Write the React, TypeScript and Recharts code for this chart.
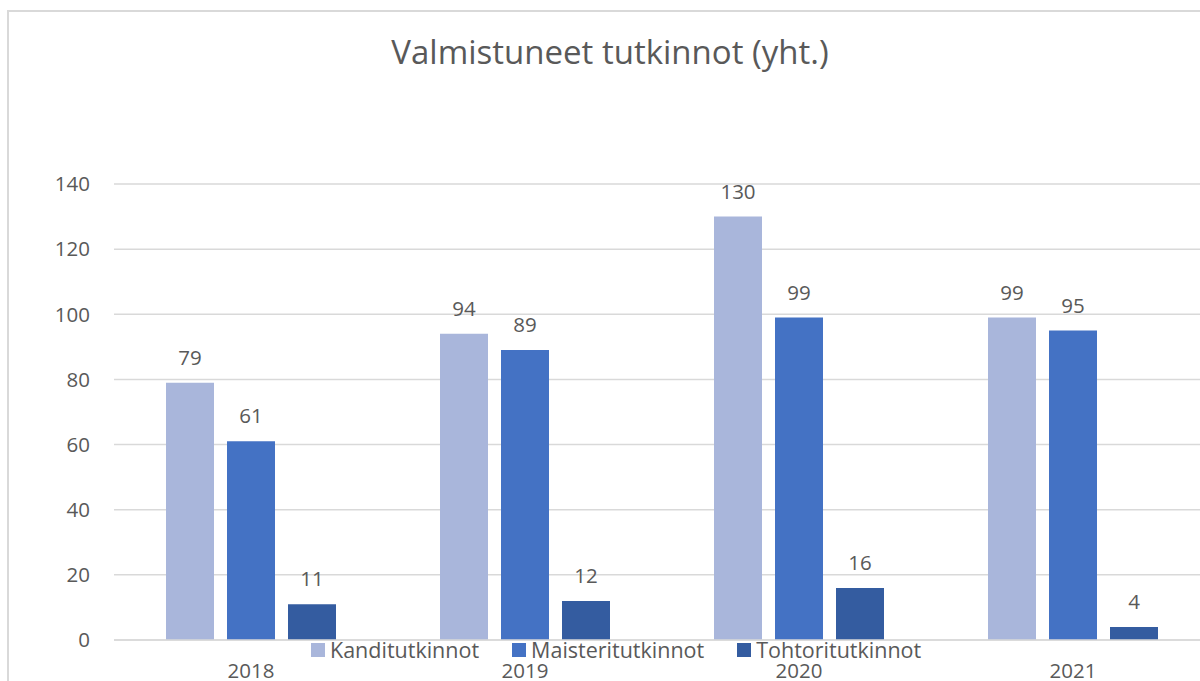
import { BarChart, Bar, XAxis, YAxis, CartesianGrid, LabelList } from "recharts";

const VUODET = ["2018", "2019", "2020", "2021"];
const KANDIT = [79, 94, 130, 99];
const MAISTERIT = [61, 89, 99, 95];
const TOHTORIT = [11, 12, 16, 4];
const Y_TICKS = [0, 20, 40, 60, 80, 100, 120, 140];

const SARJAT = [
  { key: "kandit", name: "Kanditutkinnot", color: "#A9B6DB" },
  { key: "maisterit", name: "Maisteritutkinnot", color: "#4472C4" },
  { key: "tohtorit", name: "Tohtoritutkinnot", color: "#345CA0" },
];

const TEKSTI = "#595959";
const FONTTI = "'Open Sans', sans-serif";

const data = VUODET.map((v, i) => ({
  vuosi: v,
  kandit: KANDIT[i],
  maisterit: MAISTERIT[i],
  tohtorit: TOHTORIT[i],
}));

// selite on x-akselin päällä kuten Excelissä
function Selite() {
  return (
    <div
      style={{
        position: "absolute", left: 311, top: 639, display: "flex", alignItems: "center",
        fontFamily: FONTTI, fontSize: 21.5, color: TEKSTI, whiteSpace: "nowrap",
      }}
    >
      {SARJAT.map((s) => (
        <div key={s.key} style={{ display: "flex", alignItems: "center", marginRight: 33 }}>
          <span style={{ width: 14, height: 14, background: s.color, marginRight: 5, display: "inline-block" }} />
          <span style={{ lineHeight: "22px" }}>{s.name}</span>
        </div>
      ))}
    </div>
  );
}

export default function App() {
  return (
    <div style={{ position: "absolute", left: 0, top: 0, width: 1200, height: 681, overflow: "hidden", background: "#fff" }}>
      {/* kaavion kehys, oikea ja ala reuna jäävät kuvan ulkopuolelle */}
      <div style={{ position: "absolute", left: 7, top: 10, width: 1206, height: 760, border: "2px solid #d9d9d9" }} />
      <div
        style={{
          position: "absolute", left: 0, top: 30, width: 1220, textAlign: "center",
          fontFamily: FONTTI, fontSize: 33, lineHeight: "44px", color: TEKSTI,
        }}
      >
        Valmistuneet tutkinnot (yht.)
      </div>
      <div style={{ position: "absolute", left: 0, top: 0 }}>
        <BarChart
          width={1240}
          height={720}
          data={data}
          margin={{ top: 184, right: 30, bottom: 50, left: 54 }}
          barSize={48}
          barGap={13}
        >
          <CartesianGrid vertical={false} stroke="#d9d9d9" strokeWidth={1.5} />
          <XAxis
            dataKey="vuosi"
            height={30}
            axisLine={{ stroke: "#d9d9d9", strokeWidth: 1.5 }}
            tickLine={false}
            tickMargin={17}
            tick={{ fontSize: 20.5, fill: TEKSTI, fontFamily: FONTTI }}
          />
          <YAxis
            width={60}
            domain={[0, 140]}
            ticks={Y_TICKS}
            axisLine={false}
            tickLine={false}
            tickMargin={18}
            tick={{ fontSize: 20.5, fill: TEKSTI, fontFamily: FONTTI }}
          />
          {SARJAT.map((s) => (
            <Bar key={s.key} dataKey={s.key} name={s.name} fill={s.color} isAnimationActive={false}>
              <LabelList
                dataKey={s.key}
                position="top"
                offset={18}
                style={{ fontSize: 20.5, fill: TEKSTI, fontFamily: FONTTI }}
              />
            </Bar>
          ))}
        </BarChart>
      </div>
      <Selite />
    </div>
  );
}
